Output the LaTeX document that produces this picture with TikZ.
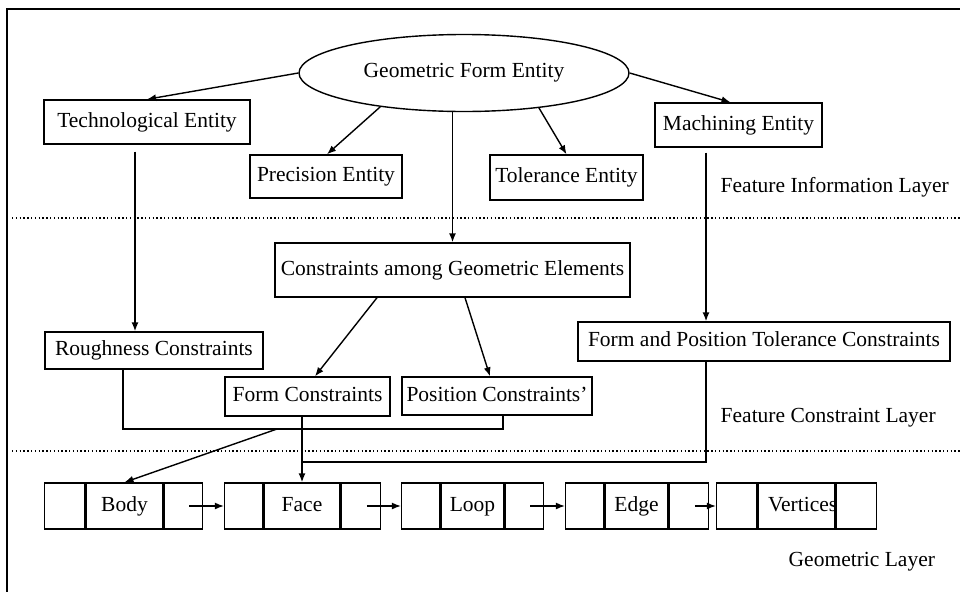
\documentclass[tikz,border=0pt]{standalone}
\usepackage{fontspec}
\setmainfont{Liberation Serif}
\usetikzlibrary{shapes.geometric, arrows.meta, positioning, calc}

\begin{document}
\begin{tikzpicture}[x=1pt, y=-1pt, line width=1.4pt,
  >={Latex[length=9pt, width=7pt]},
  font=\fontsize{21.5}{26}\selectfont,
  box/.style={draw, rectangle, inner sep=2pt, text height=15pt, text depth=5pt},
  cell/.style={draw, rectangle, inner sep=0pt, minimum height=46pt, text height=15pt, text depth=5pt},
  layer/.style={anchor=west, inner sep=0pt},
  sep/.style={dash pattern=on 1.4pt off 2.4pt}]
\useasboundingbox (0,0) rectangle (960,592);

% Frame
\draw[line width=2pt] (960,9) -- (7,9) -- (7,592);

% Layer separators
\draw[sep] (12,218) -- (960,218);
\draw[sep] (12,451) -- (960,451);

% Feature information layer
\node[draw, ellipse, minimum width=330pt, minimum height=77pt, inner sep=0pt] (geo) at (464,73) {Geometric Form Entity};
\node[box, minimum width=206pt, minimum height=44pt] (tech) at (147,122) {Technological Entity};
\node[box, minimum width=152pt, minimum height=43pt] (prec) at (326,176.5) {Precision Entity};
\node[box, minimum width=153pt, minimum height=45pt] (tol) at (566.5,177.5) {Tolerance Entity};
\node[box, minimum width=167pt, minimum height=44pt] (mach) at (738.5,125) {Machining Entity};
\node[layer] (infolayer) at (720,187) {Feature Information Layer};

% Feature constraint layer
\node[box, minimum width=355pt, minimum height=54pt] (cons) at (452.5,270) {Constraints among Geometric Elements};
\node[box, minimum width=218pt, minimum height=37pt] (rough) at (154,350.5) {Roughness Constraints};
\node[box, minimum width=165pt, minimum height=39pt] (form) at (307.5,396.5) {Form Constraints};
\node[box, minimum width=190pt, minimum height=38pt] (pos) at (497,396) {Position Constraints'};
\node[box, minimum width=372pt, minimum height=39pt] (fpt) at (764,341.5) {Form and Position Tolerance Constraints};
\node[layer] (conslayer) at (720,418) {Feature Constraint Layer};

% Geometric layer: body -> face -> loop -> edge -> vertices
\node[cell, minimum width=77pt] (body) at (124.5,506) {Body};
\node[cell, minimum width=40pt, left=0pt of body] (body-l) {};
\node[cell, minimum width=38pt, right=0pt of body] (body-r) {};

\node[cell, minimum width=76pt] (face) at (302,506) {Face};
\node[cell, minimum width=38pt, left=0pt of face] (face-l) {};
\node[cell, minimum width=39pt, right=0pt of face] (face-r) {};

\node[cell, minimum width=63pt] (loop) at (472.5,506) {Loop};
\node[cell, minimum width=38pt, left=0pt of loop] (loop-l) {};
\node[cell, minimum width=38pt, right=0pt of loop] (loop-r) {};

\node[cell, minimum width=63pt] (edge) at (636.5,506) {Edge};
\node[cell, minimum width=38pt, left=0pt of edge] (edge-l) {};
\node[cell, minimum width=39pt, right=0pt of edge] (edge-r) {};

\node[cell, minimum width=77pt] (vert) at (796.5,506) {\makebox[57pt][l]{Vertices}};
\node[cell, minimum width=40pt, left=0pt of vert] (vert-l) {};
\node[cell, minimum width=40pt, right=0pt of vert] (vert-r) {};

\node[layer] (geolayer) at (788,562) {Geometric Layer};

% Entities from the form entity
\draw[->] (geo.west) -- (tech.north);
\draw[->] (geo.202) -- ([xshift=1pt]prec.north);
\draw[->] (geo.335) -- (tol.north);
\draw[->] (geo.east) -- ([xshift=-8pt]mach.north);
\draw[->] (geo.south -| cons.north) -- (cons.north);

% Down into the constraint layer
\coordinate (techdrop) at ([xshift=-12pt]tech.south);
\coordinate (machdrop) at ([xshift=-32.5pt]mach.south);
\draw[->, shorten <=7pt] (techdrop) -- (techdrop |- rough.north);
\draw[->, shorten <=5pt] (machdrop) -- (machdrop |- fpt.north);
\draw[->] ([xshift=-75.5pt]cons.south) -- ([xshift=7.5pt]form.north);
\draw[->] ([xshift=12.5pt]cons.south) -- ([xshift=-7pt]pos.north);

% Roughness and position constraints joined, then to the body
\coordinate (rjoin) at (503,429);
\coordinate (bodyfork) at (277,429);
\draw ([xshift=-31pt]rough.south) |- (rjoin) -- (rjoin |- pos.south);
\draw[->] (bodyfork) -- (body.north);

% Form constraints and tolerances to the face
\coordinate (tolfork) at (302,462);
\draw[->] (form.south -| face.north) -- (face.north);
\draw (machdrop |- fpt.south) |- (tolfork);

% Links along the geometric chain
\draw[->] ([xshift=6pt]body-r.center) -- (face-l.west);
\draw[->] ([xshift=6pt]face-r.center) -- (loop-l.west);
\draw[->] ([xshift=6pt]loop-r.center) -- (edge-l.west);
\draw[->] ([xshift=6pt]edge-r.center) -- (vert-l.west);
\end{tikzpicture}
\end{document}
